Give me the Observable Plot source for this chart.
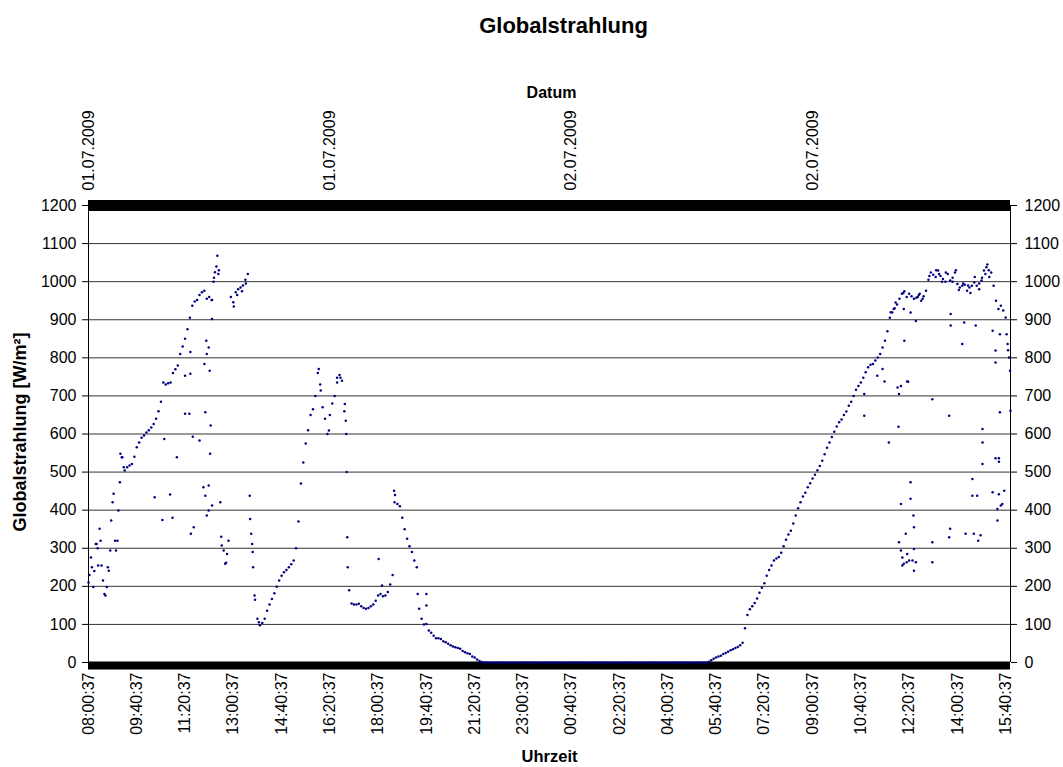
<!DOCTYPE html>
<html><head><meta charset="utf-8">
<script src="https://cdn.jsdelivr.net/npm/d3@7"></script>
<script src="https://cdn.jsdelivr.net/npm/@observablehq/plot@0.6"></script>
<style>body{margin:0;background:#fff}</style>
</head><body><div id="chart"></div>
<script>
// Minute-of-series tick labels (one every 100 readings, 1 reading per minute, starting 01.07.2009 08:00:37)
const timeLabels = ["08:00:37","09:40:37","11:20:37","13:00:37","14:40:37","16:20:37","18:00:37","19:40:37","21:20:37","23:00:37","00:40:37","02:20:37","04:00:37","05:40:37","07:20:37","09:00:37","10:40:37","12:20:37","14:00:37","15:40:37"];
const dateLabels = ["01.07.2009","01.07.2009","02.07.2009","02.07.2009"];
const yTicks = [0,100,200,300,400,500,600,700,800,900,1000,1100,1200];

// Globalstrahlung [W/m²], read every 5 minutes from 08:00:37 (day 1)
const day1 = [210,276,198,311,255,320,215,176,250,294,421,320,320,473,539,504,513,517,521,540,
565,578,590,596,604,610,617,626,640,660,685,735,730,733,735,760,770,780,810,830,
850,875,905,937,948,952,965,972,976,955,960,952,1010,1040,1030,330,294,262,320,960,
946,972,980,985,990,1005,1020,377,290,165,115,98,104,115,136,152,167,182,199,215,
228,237,243,250,258,268,300,370,470,525,575,610,650,665,700,760,730,670,640,600,
650,680,700,735,755,740,660,500,190,155,152,152,154,148,143,141,143,148,152,162,
176,180,174,176,185,205,230,440,416,410,380,350,325,305,290,268,250,141,115,100,
101,84,78,70,64,64,62,56,53,49,45,42,40,38,36,30,27,24,22,16,
13,8,4,1];
// night readings (from 21:40:37 to 05:20:37)
const night = [0,0,0,0,0,0,0,0,0,0,0,0,0,0,0,0,0,0,0,0,0,0,0,0,0,0,0,0,0,0,0,
0,0,0,0,0,0,0,0,0,0,0,0,0,0,0,0,0,0,0,0,0,0,0,0,0,0,0,0,0,0,0,
0,0,0,0,0,0,0,0,0,0,0,0,0,0,0,0,0,0,0,0,0,0,0,0,0,0,0,0,0,0,0];
// day 2 from 05:25:37
const day2 = [2,6,10,13,16,18,22,25,28,32,35,38,41,45,52,90,125,140,148,156,
168,183,196,208,228,243,255,268,273,277,288,305,322,336,346,365,386,405,421,436,
446,460,471,483,493,505,516,530,547,564,578,592,606,620,631,638,650,659,674,685,
700,716,726,735,748,762,775,782,784,793,801,810,827,845,870,905,919,930,940,955,
968,975,960,968,962,955,958,965,950,962,976,1005,1024,1018,1012,1029,1015,1007,1000,1020,
1003,1010,1024,994,985,989,992,976,985,989,998,989,995,1003,1029,1038,1030,1024,989,950,
928,937,924,906,820,661];

// scattered single readings away from the 5-minute trace: minute index and value
const extraMin = [2,7,12,17,19,23,27,33,38,42,47,52,57,62,66,69,73,
137,153,157,169,174,183,200,200,209,211,211,212,216,218,230,238,240,242,242,244,245,245,249,249,249,251,252,253,256,256,256,259,262,267,269,273,276,283,287,
301,308,318,326,334,337,339,341,344,353,477,481,498,515,522,531,533,534,536,537,601,608,633,634,682,700,700,
1607,1607,1634,1645,1649,1658,1662,1668,1672,1676,1678,1679,1679,1683,1683,1683,1686,1686,1688,1689,1689,1690,1693,1695,1696,1696,1698,1700,1703,1703,1703,1707,1709,1710,1710,1710,1714,1714,1718,1722,1728,
1742,1748,1748,1748,1756,1762,1768,1776,1783,1783,1785,1786,1786,1790,1797,1803,1810,1812,1814,1817,1822,1827,1831,1831,1834,1836,1838,1841,1843,1845,1848,1851,1852,1852,1852,1858,1862,1866,
1873,1873,1879,1879,1879,1883,1883,1886,1886,1886,1888,1888,1890,1893,1897,1902,1904,1907,1909];
const extraVal = [230,250,240,311,300,351,255,180,198,241,373,443,294,399,548,539,513,
434,374,587,441,380,539,753,653,653,758,815,338,593,355,583,460,784,657,438,845,810,386,827,465,399,766,548,622,952,902,412,1000,1025,1068,1020,421,307,259,285,
935,965,975,995,438,338,311,250,176,106,771,714,609,748,748,679,635,600,329,250,272,202,451,421,180,150,180,
705,648,753,771,738,578,920,928,945,722,619,705,316,726,416,294,276,255,970,259,928,845,338,263,285,738,737,268,919,473,430,268,386,355,298,241,897,263,960,968,955,
1015,691,316,263,1030,1020,1000,1024,648,329,351,885,915,1000,1030,978,836,995,893,338,990,970,482,438,338,1012,885,438,320,980,334,1010,613,578,521,1020,1045,1012,
447,871,819,788,536,373,403,442,536,527,657,862,412,416,451,862,836,801,766];

const trace = [...day1, ...night, ...day2].map((v, i) => ({t: i * 5, v}));
const extras = extraMin.map((t, i) => ({t, v: extraVal[i]}));
const points = [...trace, ...extras];

const font = "'Liberation Sans', Arial, sans-serif";
const timeTicks = timeLabels.map((_, i) => i * 100);
const dateTicks = dateLabels.map((_, i) => i * 500);

const chart = Plot.plot({
  width: 1063, height: 767,
  marginLeft: 88, marginRight: 53, marginTop: 205, marginBottom: 105,
  style: {fontFamily: font, background: "#fff", color: "#000"},
  x: {domain: [0, 1910], axis: null},
  y: {domain: [0, 1200], axis: null},
  marks: [
    Plot.gridY(yTicks, {stroke: "#000", strokeOpacity: 0.8, strokeWidth: 1}),
    Plot.axisY(yTicks, {anchor: "left", tickSize: 6, tickPadding: 6, fontSize: 16, label: null, tickFormat: d => String(d)}),
    Plot.axisY(yTicks, {anchor: "right", tickSize: 6, tickPadding: 8, fontSize: 16, label: null, tickFormat: d => String(d)}),
    Plot.axisX(timeTicks, {anchor: "bottom", tickSize: 0, tickPadding: 10, tickRotate: -90, fontSize: 16, label: null, tickFormat: d => timeLabels[d / 100]}),
    Plot.axisX(dateTicks, {anchor: "top", tickSize: 0, tickPadding: 15, tickRotate: -90, fontSize: 16, label: null, tickFormat: d => dateLabels[d / 500]}),
    Plot.ruleX([0, 1910], {stroke: "#000", strokeWidth: 1}),
    Plot.ruleY([1200], {stroke: "#000", strokeWidth: 11}),
    Plot.ruleY([0], {stroke: "#000", strokeWidth: 8, dy: 3}),
    Plot.dot(points, {x: "t", y: "v", r: 1.25, fill: "#000080", stroke: null}),
    Plot.text(["Globalstrahlung"], {frameAnchor: "top", lineAnchor: "middle", dx: 14, dy: -180, fontSize: 22, fontWeight: "bold", fill: "#000"}),
    Plot.text(["Datum"], {frameAnchor: "top", lineAnchor: "middle", dx: 2, dy: -113, fontSize: 16, fontWeight: "bold", fill: "#000"}),
    Plot.text(["Uhrzeit"], {frameAnchor: "bottom", lineAnchor: "middle", dx: 0, dy: 94, fontSize: 16.5, fontWeight: "bold", fill: "#000"}),
    Plot.text(["Globalstrahlung [W/m²]"], {frameAnchor: "left", lineAnchor: "middle", textAnchor: "middle", dx: -68, dy: -2, rotate: -90, fontSize: 18, fontWeight: "bold", fill: "#000"})
  ]
});
document.getElementById("chart").appendChild(chart);
</script>
</body></html>
